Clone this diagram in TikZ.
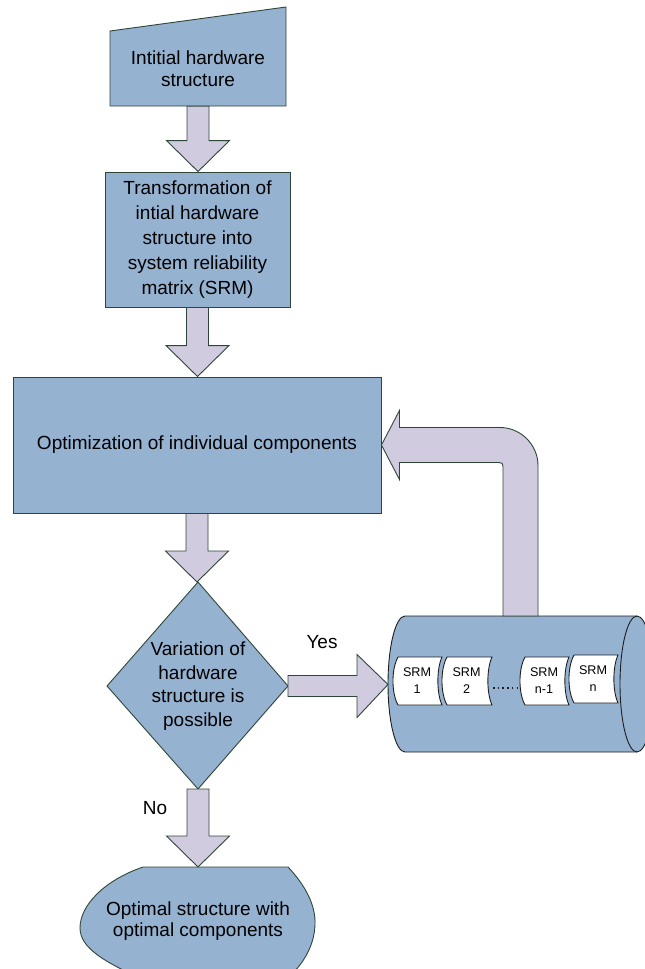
\documentclass[tikz,border=0pt]{standalone}
\usepackage{fontspec}
\setmainfont{Liberation Sans}
\usetikzlibrary{calc}

\definecolor{boxblue}{RGB}{149,178,209}
\definecolor{arrowlav}{RGB}{209,203,224}
\definecolor{edgegreen}{RGB}{46,70,56}
\definecolor{edgedark}{RGB}{30,30,30}

\tikzset{
  shapebox/.style={fill=boxblue, draw=edgegreen, line width=0.9pt, line join=miter},
  cylbox/.style={fill=boxblue, draw=edgedark, line width=0.9pt},
  srmshape/.style={fill=white, draw=edgedark, line width=0.9pt},
  blockarrow/.style={fill=arrowlav, draw=edgegreen, line width=0.9pt, line join=miter},
  txt/.style={align=center, inner sep=0pt, font=\fontsize{19}{22}\selectfont},
  smalltxt/.style={align=center, inner sep=0pt, font=\fontsize{12.6}{17}\selectfont},
  dotline/.style={draw=edgedark, line width=1.5pt, dash pattern=on 1.5pt off 3.2pt}
}

% vertical block arrow from a tail point down to a tip point
\newcommand\blockdown[2]{%
  \draw[blockarrow] let \p1=(#1), \p2=(#2) in
    (\x1-11pt,\y1) -- (\x1-11pt,\y2+31pt) -- (\x1-31.5pt,\y2+31pt) --
    (\x1,\y2) -- (\x1+31.5pt,\y2+31pt) -- (\x1+11pt,\y2+31pt) --
    (\x1+11pt,\y1) -- cycle;}
% horizontal block arrow from a tail point right to a tip point
\newcommand\blockright[2]{%
  \draw[blockarrow] let \p1=(#1), \p2=(#2) in
    (\x1,\y1+10.5pt) -- (\x2-31pt,\y1+10.5pt) -- (\x2-31pt,\y1+31.5pt) --
    (\x2,\y2) -- (\x2-31pt,\y1-31.5pt) -- (\x2-31pt,\y1-10.5pt) --
    (\x1,\y1-10.5pt) -- cycle;}
% stored-data style record: left edge bulging out, right edge curving in
\newcommand\srmbox[4]{%
  \draw[srmshape] (#1,#3) -- (#2,#3)
    .. controls (#2-5.5,#3+12) and (#2-5.5,#3+36) .. (#2,#3+48)
    -- (#1,#3+48)
    .. controls (#1-6.7,#3+36) and (#1-6.7,#3+12) .. (#1,#3) -- cycle;
  \node[smalltxt] (#4) at ({(#1+#2)/2-3},#3+24) {};}

\begin{document}
\begin{tikzpicture}[x=1pt, y=-1pt]
\useasboundingbox (0,0) rectangle (645,969);
\begin{scope}
\clip (0,0) rectangle (645,969);

% ---- manual input: initial structure
\draw[shapebox] (110,31) -- (286,7) -- (286,106) -- (110,106) -- cycle;
\node[txt, minimum width=176pt, minimum height=75pt] (input) at (198,68.5)
  {Intitial hardware\\structure};

% ---- transformation step
\node[shapebox, txt, minimum width=185pt, minimum height=135pt,
      font=\fontsize{19}{25}\selectfont] (srm) at (197.5,239.5)
  {Transformation of\\intial hardware\\structure into\\system reliability\\matrix (SRM)};

% ---- optimisation step
\node[shapebox, txt, minimum width=368pt, minimum height=136pt] (opt) at (197,445)
  {Optimization of individual components};

% ---- decision
\draw[shapebox] (198,582) coordinate (decN) -- (288,686) coordinate (decE)
  -- (198,789) coordinate (decS) -- (107,686) coordinate (decW) -- cycle;
\node[txt, font=\fontsize{19}{23.5}\selectfont] (dec) at (198,686)
  {Variation of\\hardware\\structure is\\possible};

% ---- store of alternative structures (horizontal cylinder)
\draw[cylbox] (405,616) -- (637,616)
  .. controls (646.4,616) and (654,646.5) .. (654,684)
  .. controls (654,721.5) and (646.4,752) .. (637,752)
  -- (405,752)
  .. controls (395.6,752) and (388,721.5) .. (388,684)
  .. controls (388,646.5) and (395.6,616) .. (405,616) -- cycle;
\draw[cylbox, fill=none] (637,616)
  .. controls (627.6,616) and (620,646.5) .. (620,684)
  .. controls (620,721.5) and (627.6,752) .. (637,752);
\coordinate (storeW) at (388,684.5);
\coordinate (storeN) at (520.5,616);

\srmbox{398}{442}{657}{srmA}
\srmbox{447}{492}{657}{srmB}
\srmbox{525}{569}{657}{srmC}
\srmbox{574}{618}{655}{srmD}
\node[smalltxt] at (srmA) {SRM\\1};
\node[smalltxt] at (srmB) {SRM\\2};
\node[smalltxt] at (srmC) {SRM\\n-1};
\node[smalltxt] at (srmD) {SRM\\n};
\coordinate (dotsA) at (493,688);
\coordinate (dotsB) at (519,688);
\draw[dotline] (dotsA) -- (dotsB);

% ---- result
\draw[shapebox] (143,867) -- (288,867)
  .. controls (305,885) and (316,905) .. (315,925)
  .. controls (314,945) and (305,962) .. (288,978)
  -- (140,978)
  .. controls (105,962) and (80,948) .. (80,928)
  .. controls (80,905) and (105,880) .. (143,867) -- cycle;
\node[txt, font=\fontsize{19}{20.5}\selectfont] (result) at (198,921)
  {Optimal structure with\\optimal components};
\coordinate (resultN) at (198,867);

% ---- block arrows
\blockdown{input.south}{srm.north}
\blockdown{srm.south}{opt.north}
\blockdown{opt.south}{decN}
\blockdown{decS}{resultN}
\blockright{decE}{storeW}

% feedback arrow from the store back to the optimisation step
\draw[blockarrow] let \p1=(storeN), \p2=(opt.east) in
  (\x1-17.5pt,\y1) -- (\x1-17.5pt,\y2-21.5pt)
  .. controls (\x1-17.5pt,\y2-18.5pt) and (\x1-18.5pt,\y2-17.5pt) .. (\x1-21.5pt,\y2-17.5pt)
  -- (\x2+18pt,\y2-17.5pt) -- (\x2+18pt,\y2-34.5pt) -- (\x2,\y2)
  -- (\x2+18pt,\y2+34.5pt) -- (\x2+18pt,\y2+17.5pt) -- (\x1-20.5pt,\y2+17.5pt)
  .. controls (\x1+0.5pt,\y2+17.5pt) and (\x1+17.5pt,\y2) .. (\x1+17.5pt,\y2-20.5pt)
  -- (\x1+17.5pt,\y1) -- cycle;

% ---- branch labels
\node[txt] (yes) at (322,642) {Yes};
\node[txt] (no) at (155,808) {No};
\end{scope}
\end{tikzpicture}
\end{document}
